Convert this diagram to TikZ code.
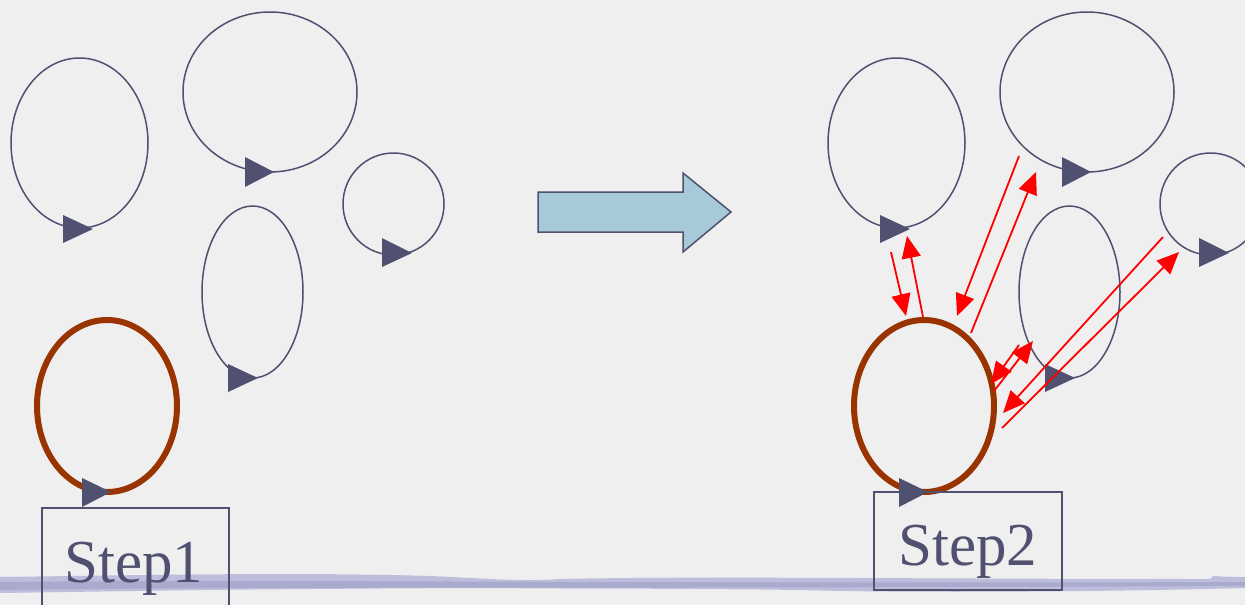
\documentclass[tikz,border=0pt]{standalone}
\usepackage{fontspec}
\setmainfont{Liberation Serif}
\usetikzlibrary{shapes.geometric,arrows.meta}
\definecolor{ink}{RGB}{80,80,112}
\definecolor{brownloop}{RGB}{153,51,0}
\definecolor{bg}{RGB}{239,239,239}
\definecolor{lav}{RGB}{190,190,220}
\definecolor{lavdark}{RGB}{170,170,206}
\definecolor{arrowfill}{RGB}{166,202,216}
\begin{document}
\begin{tikzpicture}[x=1pt,y=-1pt,
  loop/.style={ellipse,draw=ink,line width=1.5pt,inner sep=0pt},
  bigloop/.style={ellipse,draw=brownloop,line width=6pt,inner sep=0pt},
  tri/.style={fill=ink},
  stepbox/.style={draw=ink,line width=1.3pt,inner sep=0pt},
  steptext/.style={text=ink,font=\fontsize{61}{61}\selectfont,inner sep=0pt},
  redarrow/.style={draw=red,line width=1.8pt,-{Triangle[length=22pt,width=19pt]}}]
\fill[bg] (0,0) rectangle (1245,605);
\useasboundingbox (0,0) rectangle (1245,605);
% bottom lavender stroke
\fill[lav] (0,577) .. controls (150,575) and (300,572) .. (430,576)
  .. controls (480,578) and (520,582) .. (560,579)
  .. controls (700,576) and (900,579) .. (1210,579) -- (1213,576)
  .. controls (1230,577) .. (1245,577) -- (1245,588)
  .. controls (1100,592) and (900,593) .. (800,590)
  .. controls (650,588) and (560,589) .. (500,588)
  .. controls (430,588) and (300,589) .. (200,590)
  .. controls (100,592) .. (0,593) -- cycle;
\fill[lavdark] (0,582) .. controls (300,579) and (600,584) .. (1245,582) -- (1245,586) .. controls (600,589) and (300,586) .. (0,590) -- cycle;
% loops on both sides
\foreach \s/\dx in {L/0,R/817}{
  \node[loop,minimum width=137pt,minimum height=170pt] (\s a) at (79.5+\dx,143) {};
  \node[loop,minimum width=174pt,minimum height=160pt] (\s b) at (270+\dx,92) {};
  \node[loop,minimum width=101pt,minimum height=102pt] (\s c) at (393.5+\dx,204) {};
  \node[loop,minimum width=101pt,minimum height=172pt] (\s d) at (252.5+\dx,292) {};
  \node[bigloop,minimum width=140pt,minimum height=172pt] (\s e) at (107+\dx,406) {};
  \fill[tri] (93+\dx,229) -- ++(-30,-14) -- ++(0,28) -- cycle;
  \fill[tri] (274+\dx,172) -- ++(-29,-15) -- ++(0,30) -- cycle;
  \fill[tri] (412+\dx,253) -- ++(-30,-15) -- ++(0,29) -- cycle;
  \fill[tri] (258+\dx,378) -- ++(-30,-14) -- ++(0,28) -- cycle;
  \fill[tri] (111+\dx,492) -- ++(-29,-14) -- ++(0,29) -- cycle;
}
% big arrow
\draw[ink,fill=arrowfill,line width=1.5pt,line join=miter]
  (538,192) -- (683,192) -- (683,173) -- (731,212) -- (683,252) -- (683,232) -- (538,232) -- cycle;
% step boxes
\node[stepbox,minimum width=187pt,minimum height=112pt] (box1) at (135.5,564) {};
\node[steptext,anchor=base] (t1) at (134,582) {Step1};
\node[stepbox,minimum width=188pt,minimum height=98pt] (box2) at (968,541) {};
\node[steptext,anchor=base] (t2) at (968,565) {Step2};
% red arrows
\coordinate (a1s) at (891,252); \coordinate (a1e) at (906,316);
\coordinate (a2s) at (923,317); \coordinate (a2e) at (907,236);
\coordinate (a3s) at (1019,156); \coordinate (a3e) at (957,316);
\coordinate (a4s) at (971,333); \coordinate (a4e) at (1036,172);
\coordinate (a5s) at (1019,345); \coordinate (a5e) at (991,384);
\coordinate (a6s) at (994,391); \coordinate (a6e) at (1033,341);
\coordinate (a7s) at (1163,237); \coordinate (a7e) at (1003,413);
\coordinate (a8s) at (1002,428); \coordinate (a8e) at (1179,252);
\foreach \i in {1,...,8}{\draw[redarrow] (a\i s) -- (a\i e);}
\end{tikzpicture}
\end{document}
